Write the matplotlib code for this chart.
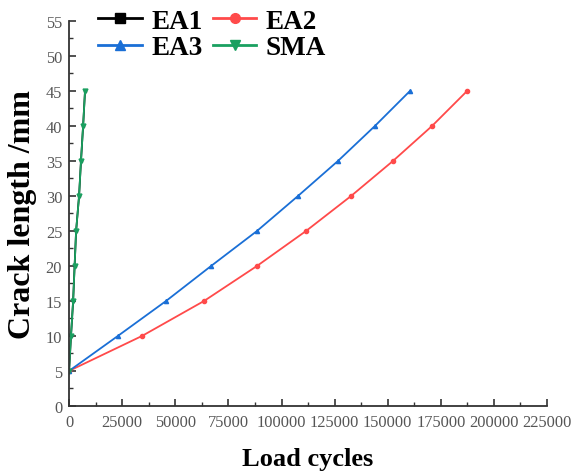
import numpy as np
import matplotlib.pyplot as plt
from matplotlib.ticker import MultipleLocator

# crack length (mm) at each measured point
crack = [5, 10, 15, 20, 25, 30, 35, 40, 45]

# load cycles
ea1_cycles = [0, 900, 1900, 2600, 3300, 4700, 5600, 6600, 7500]
ea2_cycles = [0, 34400, 63600, 88500, 111600, 132800, 152500, 170900, 187400]
ea3_cycles = [0, 23000, 45700, 66900, 88500, 107800, 126600, 144000, 160500]
sma_cycles = [0, 900, 1900, 2600, 3300, 4700, 5600, 6600, 7500]

plt.rcParams['font.family'] = ['Liberation Serif', 'DejaVu Serif']

fig = plt.figure(figsize=(5.71, 4.77), dpi=100)
ax = fig.add_axes([0.121, 0.147, 0.837, 0.807])

l1, = ax.plot(ea1_cycles, crack, "-", color="black", marker="s", ms=2, lw=1.3, label="EA1")
l2, = ax.plot(ea2_cycles, crack, "-", color="#ff4a4a", marker="o", ms=3, lw=1.3, label="EA2")
l3, = ax.plot(ea3_cycles, crack, "-", color="#1a6fd6", marker="^", ms=3, lw=1.3, label="EA3")
l4, = ax.plot(sma_cycles, crack, "-", color="#1aa060", marker="v", ms=3.5, lw=1.3, label="SMA")

ax.set_xlim(0, 225000)
ax.set_ylim(0, 55)
ax.xaxis.set_major_locator(MultipleLocator(25000))
ax.xaxis.set_minor_locator(MultipleLocator(12500))
ax.yaxis.set_major_locator(MultipleLocator(5))
ax.yaxis.set_minor_locator(MultipleLocator(2.5))

for s in ["top", "right"]:
    ax.spines[s].set_visible(False)
for s in ["left", "bottom"]:
    ax.spines[s].set_linewidth(1.3)
    ax.spines[s].set_color("#333333")

ax.tick_params(which="major", direction="in", length=5, width=1.2, colors="#333333",
               labelcolor="#555555", labelsize=11.8)
ax.tick_params(which="minor", direction="in", length=3, width=1.0, colors="#333333")
ax.tick_params(axis="x", pad=6)
ax.tick_params(axis="y", pad=5)

ax.set_xlabel("Load cycles", fontsize=19, fontweight="bold", labelpad=12)
ax.set_ylabel("Crack length /mm", fontsize=23, fontweight="bold", labelpad=6)

# column-wise fill: EA1 EA2 on the first row, EA3 SMA on the second
leg = ax.legend([l1, l3, l2, l4], ["EA1", "EA3", "EA2", "SMA"], ncol=2, loc="upper left",
                bbox_to_anchor=(0.01, 1.095), frameon=False,
                prop={"weight": "bold", "size": 19.5},
                handlelength=1.6, columnspacing=0.4, handletextpad=0.35, labelspacing=0.05)
for h in leg.legend_handles:
    h.set_markersize(7)
    h.set_linewidth(2)

plt.savefig("out.png", dpi=100)
